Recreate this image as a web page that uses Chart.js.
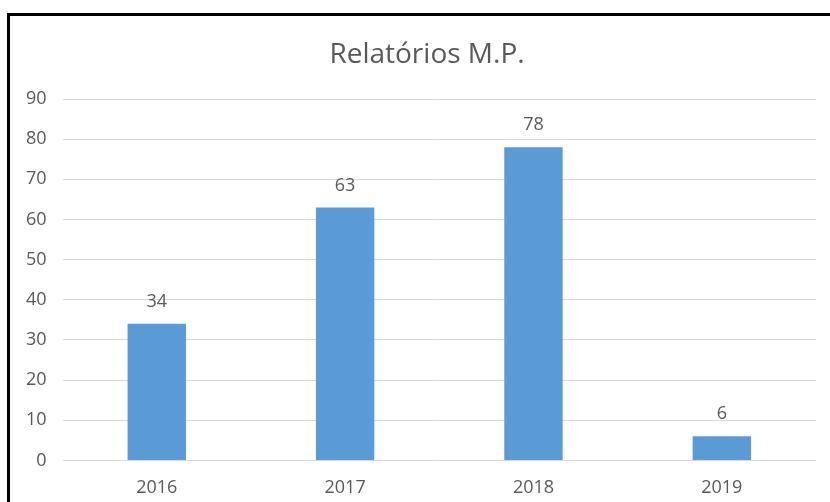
<!DOCTYPE html>
<html>
<head>
<meta charset="utf-8">
<script src="https://cdn.jsdelivr.net/npm/chart.js@4"></script>
<style>
  html, body { margin: 0; padding: 0; background: #fff; overflow: hidden; }
  #box {
    position: absolute; left: 7px; top: 13px;
    width: 834px; height: 520px;
    border: 3px solid #000; background: #fff;
  }
  canvas { display: block; }
</style>
</head>
<body>
<div id="box"><canvas id="myChart" width="834" height="500"></canvas></div>
<script>
const anos = ['2016', '2017', '2018', '2019'];
const relatorios = [34, 63, 78, 6];
const yTicks = [0, 10, 20, 30, 40, 50, 60, 70, 80, 90];
const titulo = 'Relatórios M.P.';

const cinza = '#595959';
const fonte = "'Open Sans', 'Noto Sans', sans-serif";

// title centred on the whole canvas, not on the padded layout box
const tituloCentro = {
  id: 'tituloCentro',
  afterDraw(chart) {
    const ctx = chart.ctx;
    ctx.save();
    ctx.fillStyle = cinza;
    ctx.font = '28px ' + fonte;
    ctx.textAlign = 'center';
    ctx.textBaseline = 'middle';
    ctx.fillText(titulo, chart.width / 2, 39);
    ctx.restore();
  }
};

// writes each bar's value just above it
const rotulos = {
  id: 'rotulos',
  afterDatasetsDraw(chart) {
    const ctx = chart.ctx;
    ctx.save();
    ctx.fillStyle = cinza;
    ctx.font = '18px ' + fonte;
    ctx.textAlign = 'center';
    ctx.textBaseline = 'middle';
    chart.getDatasetMeta(0).data.forEach((bar, i) => {
      ctx.fillText(String(relatorios[i]), bar.x, bar.y - 22);
    });
    ctx.restore();
  }
};

let myChart = document.getElementById('myChart').getContext('2d');
let grafico = new Chart(myChart, {
  type: 'bar',
  data: {
    labels: anos,
    datasets: [{
      label: 'Relatórios',
      data: relatorios,
      backgroundColor: '#5B9BD5',
      categoryPercentage: 1,
      barPercentage: 0.31
    }]
  },
  options: {
    responsive: false,
    animation: false,
    layout: { padding: { left: 0, right: 28, top: 83, bottom: 0 } },
    plugins: {
      legend: { display: false },
      tooltip: { enabled: false },
      title: { display: false }
    },
    scales: {
      x: {
        grid: { display: false, drawTicks: false },
        border: { display: false },
        ticks: { color: cinza, font: { family: fonte, size: 18 }, padding: 17 }
      },
      y: {
        min: 0,
        max: 90,
        afterBuildTicks(axis) { axis.ticks = yTicks.map(v => ({ value: v })); },
        grid: { color: '#D9D9D9', drawTicks: false },
        border: { display: false },
        ticks: { color: cinza, font: { family: fonte, size: 18 }, padding: 16 }
      }
    }
  },
  plugins: [rotulos, tituloCentro]
});
</script>
</body>
</html>
